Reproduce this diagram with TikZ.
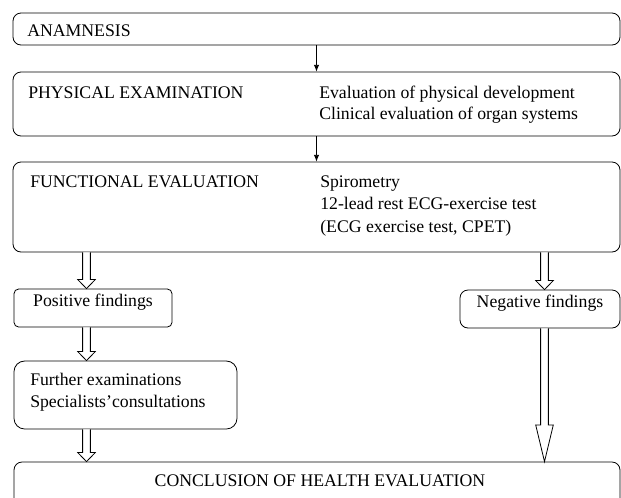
\documentclass[tikz,border=0pt]{standalone}
\usepackage{fontspec}
\setmainfont{Liberation Serif}
\usetikzlibrary{arrows.meta,positioning,calc,fit}
\newcommand{\hollowarrow}[3]{%
  \draw[hollow] let \p1=(#1), \p2=(#2) in
    (\x1-2.9pt,\y1) -- (\x1-2.9pt,\y2+#3) -- (\x1-6.6pt,\y2+#3) -- (\x1,\y2)
    -- (\x1+6.6pt,\y2+#3) -- (\x1+2.9pt,\y2+#3) -- (\x1+2.9pt,\y1);}

\begin{document}
\begin{tikzpicture}[x=0.75pt,y=-0.75pt,font=\fontsize{13.3}{16}\selectfont,
    box/.style={draw,line width=0.6pt,rounded corners=6pt,inner sep=0pt},
    smallbox/.style={box,rounded corners=3.5pt},
    link/.style={line width=0.6pt,-{Latex[length=5pt,width=4pt]}},
    hollow/.style={line width=0.6pt,fill=white},
    txt/.style={anchor=base west,inner sep=0pt}]
  \useasboundingbox (0,0) rectangle (621,497);
  % main boxes
  \node[box,fit={(13,13) (620,45)}] (anam) {};
  \node[box,fit={(13,72) (620,136)}] (phys) {};
  \node[box,fit={(13,162) (620,252)}] (func) {};
  \node[smallbox,fit={(14,289) (172,327)}] (pos) {Positive findings};
  \node[box,fit={(460,290) (620,328)}] (neg) {Negative findings};
  \node[box,rounded corners=8pt,fit={(14,361) (237,429)}] (further) {};
  \node[box,fit={(14,462) (620,530)}] (conc) {};
  % texts
  \node[txt] (anamtxt) at (27,36.5) {ANAMNESIS};
  \node[txt] (phystxt) at (28,98) {PHYSICAL EXAMINATION};
  \node[txt] (physa) at (319,98) {Evaluation of physical development};
  \node[txt] (physb) at (319,119.5) {Clinical evaluation of organ systems};
  \node[txt] (functxt) at (30,187) {FUNCTIONAL EVALUATION};
  \node[txt] (funca) at (320,187) {Spirometry};
  \node[txt] (funcb) at (320,209.5) {12-lead rest ECG-exercise test};
  \node[txt] (funcc) at (320,232) {(ECG exercise test, CPET)};
  \node[txt] (furthera) at (30,385) {Further examinations};
  \node[txt] (furtherb) at (30,407.5) {Specialists’consultations};
  \node[anchor=base,inner sep=0pt] (conctxt) at (320,486.5) {CONCLUSION OF HEALTH EVALUATION};
  % arrows
  \coordinate (leftcol) at (86.5,0);
  \coordinate (rightcol) at (544.5,0);
  \draw[link] (anam) -- (phys);
  \draw[link] (phys) -- (func);
  \hollowarrow{func.south -| leftcol}{pos.north -| leftcol}{6.8pt}
  \hollowarrow{func.south -| rightcol}{neg.north -| rightcol}{6.8pt}
  \hollowarrow{pos.south -| leftcol}{further.north -| leftcol}{6.8pt}
  \hollowarrow{further.south -| leftcol}{conc.north -| leftcol}{6.8pt}
  \hollowarrow{neg.south -| rightcol}{conc.north -| rightcol}{27.5pt}
\end{tikzpicture}
\end{document}
